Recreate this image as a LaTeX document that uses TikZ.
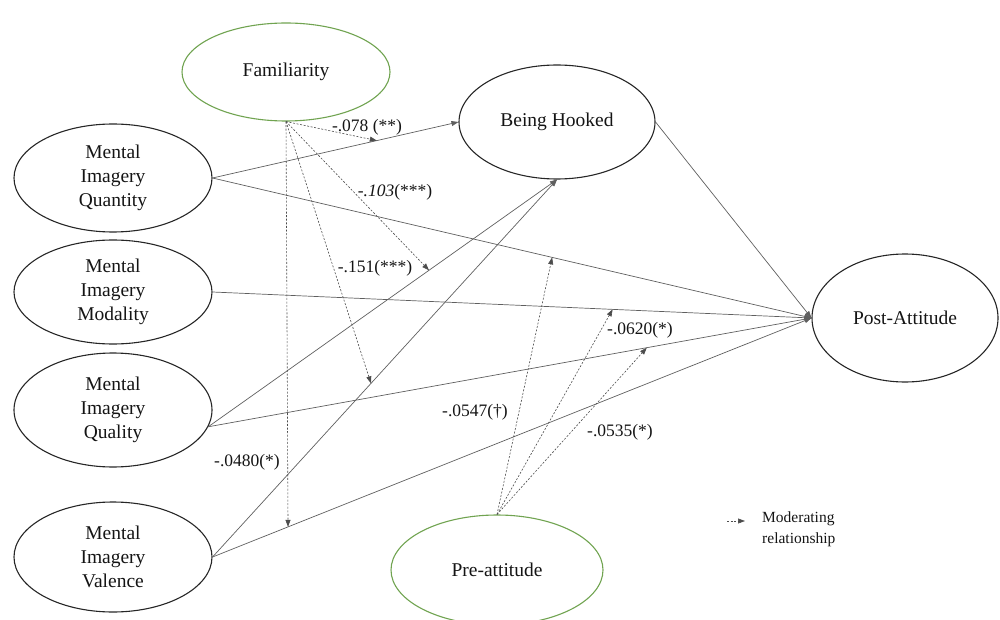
\documentclass[tikz,border=0pt]{standalone}
\usepackage{fontspec}
\setmainfont{Liberation Serif}
\usetikzlibrary{arrows.meta,shapes.geometric}
\definecolor{famgreen}{RGB}{112,163,80}
\definecolor{linegray}{RGB}{95,95,95}
\definecolor{txt}{RGB}{20,20,20}
\begin{document}
\begin{tikzpicture}[x=1pt,y=-1pt,
  construct/.style={ellipse,draw=black!85,line width=1.1pt,inner sep=0pt,
    text=txt,align=center,font=\fontsize{19.5}{24}\selectfont},
  moderator/.style={construct,draw=famgreen},
  path/.style={draw=linegray,line width=0.7pt,-{Triangle[length=7pt,width=5pt]}},
  mod/.style={draw=black!70,line width=0.6pt,dash pattern=on 2pt off 1.6pt,
    -{Triangle[length=7pt,width=5pt]}},
  coef/.style={text=txt,font=\fontsize{17.5}{20}\selectfont,inner sep=0pt}]
\useasboundingbox (0,0) rectangle (1000,620);

% constructs
\node[moderator,minimum width=208,minimum height=98] (fam) at (286,72) {Familiarity};
\node[construct,minimum width=196,minimum height=114] (bh) at (557,122) {Being Hooked};
\node[construct,minimum width=198,minimum height=108] (q) at (113,178) {Mental\\Imagery\\Quantity};
\node[construct,minimum width=198,minimum height=104] (mo) at (113,292) {Mental\\Imagery\\Modality};
\node[construct,minimum width=198,minimum height=114] (qu) at (113,410) {Mental\\Imagery\\Quality};
\node[construct,minimum width=198,minimum height=110] (va) at (113,557) {Mental\\Imagery\\Valence};
\node[construct,minimum width=186,minimum height=128] (post) at (905,318) {Post-Attitude};
\node[moderator,minimum width=212,minimum height=110] (pre) at (497,570) {Pre-attitude};

% structural paths, with the points where moderators act
\draw[path] (q.east) -- coordinate[pos=0.668] (mA) (bh.west);
\draw[path] (q.east) -- coordinate[pos=0.567] (mE) (post.west);
\draw[path] (mo.east) -- coordinate[pos=0.668] (mF) (post.west);
\draw[path] (qu.-10) -- coordinate[pos=0.633] (mB) (bh.south);
\draw[path] (qu.-10) -- coordinate[pos=0.727] (mG) (post.west);
\draw[path] (va.east) -- coordinate[pos=0.46] (mC) (bh.south);
\draw[path] (va.east) -- coordinate[pos=0.126] (mD) (post.west);
\draw[path] (bh.east) -- (post.west);

% moderating relationships
\draw[mod] (fam.south) -- (mA);
\draw[mod] (fam.south) -- (mB);
\draw[mod] (fam.south) -- (mC);
\draw[mod] (fam.south) -- (mD);
\draw[mod] (pre.north) -- (mE);
\draw[mod] (pre.north) -- (mF);
\draw[mod] (pre.north) -- (mG);

% coefficients
\node[coef] (c1) at (367,127) {-.078 (**)};
\node[coef] (c2) at (395,192) {\textit{-.103}(***)};
\node[coef] (c3) at (375,268) {-.151(***)};
\node[coef] (c4) at (247,462) {-.0480(*)};
\node[coef] (c5) at (475,412) {-.0547(†)};
\node[coef] (c6) at (640,330) {-.0620(*)};
\node[coef] (c7) at (620,432) {-.0535(*)};

% legend
\coordinate (lg1) at (727,521);
\coordinate (lg2) at (745,521);
\draw[mod] (lg1) -- (lg2);
\node[coef,anchor=west,align=left,font=\fontsize{15.5}{21}\selectfont] (lgt) at (762,529) {Moderating\\relationship};
\end{tikzpicture}
\end{document}
